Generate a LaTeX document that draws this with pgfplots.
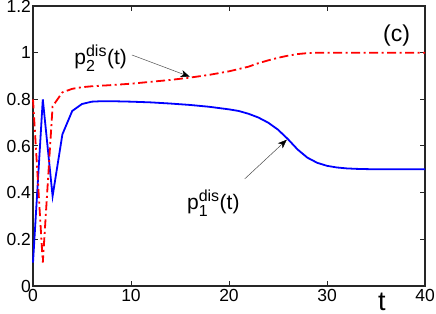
\documentclass[border=0pt]{standalone}
\usepackage{pgfplots}
\pgfplotsset{compat=1.18}
\usepackage{amsmath}
\usepackage{fontspec}
\setmainfont{Liberation Sans}
\DeclareMathSizes{21}{21}{16}{12}
\usetikzlibrary{arrows.meta}
\begin{document}
\begin{tikzpicture}
\begin{axis}[
  scale only axis, width=392pt, height=280pt,
  xmin=0, xmax=40, ymin=0, ymax=1.2,
  xtick={0,10,20,30,40}, ytick={0,0.2,0.4,0.6,0.8,1,1.2},
  tick align=inside, major tick length=5pt,
  axis line style={draw=black!85, line width=1.2pt},
  tick style={draw=black!85, line width=1pt},
  ticklabel style={font=\fontsize{17.5}{20}\selectfont},
  /pgf/number format/assume math mode=true,
  yticklabel style={xshift=1.5pt},
  clip=false,
]
\addplot[blue, line width=1.8pt] coordinates {
(0,0.1)(1,0.8)(2,0.385)(3,0.65)(4,0.75)(5,0.78)(6,0.79)(7,0.792)(8,0.792)(10,0.79)(12,0.787)(14,0.782)(16,0.776)(18,0.768)(20,0.757)(21,0.75)(22,0.738)(23,0.722)(24,0.70)(25,0.67)(26,0.63)(27,0.585)(28,0.55)(29,0.528)(30,0.515)(31,0.508)(32,0.504)(33,0.502)(35,0.5)(40,0.5)
};
\addplot[red, line width=1.8pt, dash pattern=on 9pt off 3.5pt on 2pt off 3.5pt] coordinates {
(0,0.8)(1,0.1)(2,0.77)(3,0.83)(4,0.845)(5,0.852)(6,0.856)(8,0.861)(10,0.867)(12,0.875)(14,0.883)(16,0.893)(18,0.905)(20,0.92)(22,0.94)(23,0.955)(24,0.967)(25,0.978)(26,0.987)(27,0.994)(28,0.998)(29,1.0)(40,1.0)
};
\draw[black!70, line width=0.5pt, -{Stealth[length=9pt,width=7pt,inset=2.5pt,black]}] (axis cs:10.1,0.99) -- (axis cs:16.0,0.897);
\draw[black!70, line width=0.5pt, -{Stealth[length=9pt,width=7pt,inset=2.5pt,black]}] (axis cs:21.6,0.459) -- (axis cs:25.9,0.627);
\node[font=\fontsize{21}{24}\selectfont, inner sep=0pt] at (axis cs:6.9,0.975) {$\text{p}_{\text{2}}^{\text{dis}}\text{(t)}$};
\node[font=\fontsize{21}{24}\selectfont, inner sep=0pt] at (axis cs:18.4,0.355) {$\text{p}_{\text{1}}^{\text{dis}}\text{(t)}$};
\node[font=\fontsize{23}{26}\selectfont, inner sep=0pt] at (axis cs:37.1,1.073) {(c)};
\node[font=\fontsize{27}{30}\selectfont, inner sep=0pt] at (axis cs:35.6,-0.068) {t};
\end{axis}
\pgfresetboundingbox
\useasboundingbox (-33pt,-27pt) rectangle (403pt,286pt);
\end{tikzpicture}
\end{document}
